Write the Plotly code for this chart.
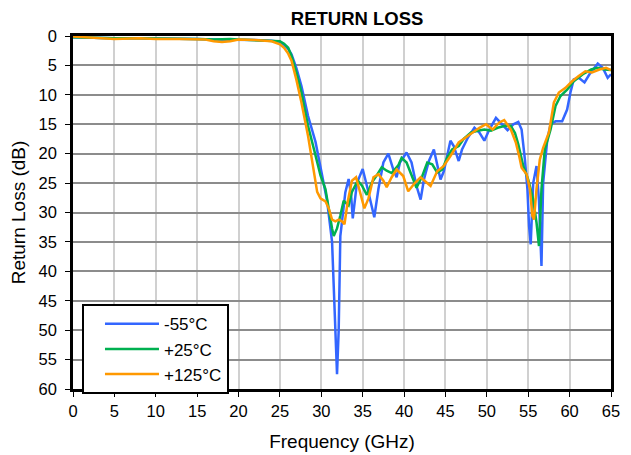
import plotly.graph_objects as go

# ---- data ----
freq_m55 = [0, 2, 5, 8, 10, 13, 15, 17, 19, 20, 22, 24, 25, 25.5, 26, 26.4, 27, 27.6, 28, 28.4,
            29.3, 30.05, 30.7, 31.3, 31.6, 31.8, 31.9, 32.1, 32.3, 32.9, 33.3, 33.6, 33.8, 34.3,
            35, 35.6, 36.4, 36.9, 37.5, 38.1, 38.7, 39.1, 39.5, 40.3, 40.9, 41.5, 42, 42.4, 43,
            43.6, 44, 44.4, 44.8, 45.6, 46, 46.6, 47, 47.7, 48.5, 49.1, 49.7, 50.3, 51.1, 51.9,
            52.5, 53.2, 53.8, 54.2, 54.6, 54.9, 55.1, 55.3, 55.6, 56, 56.3, 56.6, 56.8, 57.3,
            57.7, 58.3, 59.1, 59.7, 60.1, 60.5, 61.1, 61.8, 62.4, 63.4, 64, 64.6, 65]
rl_m55 = [0.2, 0.3, 0.4, 0.4, 0.4, 0.5, 0.5, 0.6, 0.6, 0.6, 0.7, 0.8, 1.0, 1.5, 2.2, 3.1, 5.5, 8.5, 11, 13.6,
          18, 23.2, 28, 35, 45, 53, 57.5, 50, 34, 26.6, 24.3, 27, 31, 25,
          22.6, 26, 30.8, 26, 21.5, 20, 22.7, 24, 21.5, 19.8, 21.5, 25.5, 27.8, 24.4, 21.25,
          19.3, 21.8, 24.4, 23, 17.8, 18.7, 21.25, 19.3, 17.3, 15.6, 16.4, 17.8, 15.9, 13.9, 15,
          16, 15, 14.6, 15.9, 21, 26, 32.3, 35.4, 25, 22.1, 28, 39.1, 25, 17.6,
          15, 14.5, 14.5, 12.5, 9.6, 7.4, 7.1, 7.9, 6.5, 4.7, 5.4, 7.1, 6.5]

freq_p25 = [0, 2, 5, 8, 10, 13, 15, 17, 19, 20, 22, 24, 25, 25.5, 26, 26.4, 27, 27.6, 28.4, 29.3,
            29.9, 30.5, 30.9, 31.3, 31.5, 31.9, 32.3, 32.7, 33.3, 33.7, 34.4, 34.9, 35.5, 36.1,
            36.7, 37.3, 37.9, 38.5, 39.3, 39.7, 40.3, 40.9, 41.5, 42.2, 42.8, 43.4, 44, 44.6,
            45.2, 45.8, 46.6, 47.2, 48.1, 48.9, 49.7, 50.5, 51.3, 52.1, 52.9, 53.4, 53.8, 54.4,
            55, 55.6, 56, 56.3, 56.6, 57, 57.7, 58.3, 58.9, 59.7, 60.5, 61.6, 62.6, 63.4, 64.2, 65]
rl_p25 = [0.2, 0.3, 0.4, 0.4, 0.4, 0.5, 0.5, 0.6, 0.5, 0.6, 0.7, 0.8, 0.9, 1.3, 2.0, 3.4, 6.2, 9.6, 15.3, 20.3,
          23.7, 26, 29.6, 32.7, 34, 32.7, 30.5, 28, 28.8, 26.5, 24.6, 25.4, 27, 24.9,
          23.7, 22.3, 22.9, 23.3, 22, 20.7, 21.5, 23.8, 25.8, 23.8, 21.5, 21.8, 23.2, 22.7,
          20.7, 19.3, 18.7, 17.5, 16.4, 16.1, 15.9, 16.1, 15.6, 15.3, 15.3, 16.5, 18.4, 22.1,
          24.4, 27.8, 31.7, 35.7, 26, 19.3, 15.9, 11.9, 10.2, 9.1, 7.7, 6.5, 5.7, 5.4, 5.7, 5.8]

freq_p125 = [0, 2, 5, 8, 10, 13, 15, 16, 17, 18, 19, 20, 22, 24, 25, 25.5, 26, 26.4, 27, 27.6,
             28.4, 29.0, 29.5, 29.9, 30.5, 30.9, 31.3, 31.7, 32.1, 32.5, 32.8, 33.2, 33.7, 34.2,
             34.7, 35.2, 35.7, 36.3, 36.9, 37.5, 37.9, 38.5, 39.1, 39.9, 40.5, 41.3, 42, 42.6,
             43.2, 44, 44.8, 45.6, 46.6, 47.4, 48.3, 49.1, 49.9, 50.7, 51.5, 52.1, 52.9, 53.5,
             53.95, 54.2, 54.8, 55.2, 55.5, 55.7, 56, 56.4, 56.8, 57.5, 58.1, 58.7, 59.5, 60.3,
             61.1, 61.9, 62.7, 63.6, 64.4, 65]
rl_p125 = [0.1, 0.3, 0.5, 0.4, 0.5, 0.5, 0.6, 0.6, 0.9, 1.0, 0.9, 0.6, 0.7, 0.9, 1.4, 2.0, 3.0, 4.2, 7.5, 11.3,
           17, 22.5, 26.5, 27.6, 28.1, 29.3, 31.2, 31.5, 31.2, 31.5, 32, 28.1, 24.6, 24,
           26.5, 29.3, 27.6, 24, 23.5, 24.6, 25.7, 24, 22.7, 23.8, 26.4, 25, 24, 24.7,
           25.5, 23, 22.1, 20.4, 18.1, 17.3, 16.4, 15.6, 15, 15.9, 14.7, 14.3, 15.9, 18.1,
           20.7, 22.4, 23.5, 26, 30.6, 31.2, 26, 21, 19, 16.4, 11.3, 9.6, 8.8, 7.7,
           6.8, 6, 6.2, 5.7, 5.4, 5.8]

series_names = ["-55°C", "+25°C", "+125°C"]
series_colors = ["#3366FF", "#00B050", "#FF9900"]
x_ticks = list(range(0, 66, 5))
y_ticks = list(range(0, 61, 5))

fig = go.Figure()
for name, color, fx, fy in zip(series_names, series_colors,
                               [freq_m55, freq_p25, freq_p125],
                               [rl_m55, rl_p25, rl_p125]):
    fig.add_trace(go.Scatter(x=fx, y=fy, mode="lines", name=name,
                             line=dict(color=color, width=2.5)))

font_family = "Liberation Sans, Arial, sans-serif"
fig.update_layout(
    width=623, height=447,
    margin=dict(l=65, r=20, t=28, b=66, autoexpand=False),
    paper_bgcolor="white", plot_bgcolor="white",
    font=dict(family=font_family, size=16.5, color="black"),
    title=dict(text="<b>RETURN LOSS</b>", x=0.528, xref="paper", xanchor="center",
               y=0.99, yref="container", yanchor="top", pad=dict(t=0, b=0),
               font=dict(size=18.5)),
    showlegend=True,
    legend=dict(x=0.0167, y=0.24, xanchor="left", yanchor="top",
                bgcolor="white", bordercolor="black", borderwidth=2,
                font=dict(size=17), itemwidth=54, indentation=16, tracegroupgap=0),
)
fig.update_xaxes(range=[0, 65], tickvals=x_ticks, ticks="outside", ticklen=5,
                 tickcolor="black", showline=True, linecolor="black", linewidth=2.5,
                 mirror=True, showgrid=True, gridcolor="#D0D0D0", gridwidth=1.5,
                 zeroline=False, automargin=False,
                 title=dict(text="Frequency (GHz)", font=dict(size=19), standoff=17))
fig.update_yaxes(range=[60, 0], tickvals=y_ticks, ticks="outside", ticklen=5,
                 tickcolor="black", showline=True, linecolor="black", linewidth=2.5,
                 mirror=True, showgrid=True, gridcolor="#8C8C8C", gridwidth=1.5,
                 zeroline=False, automargin=False, ticklabelstandoff=5,
                 title=dict(text="Return Loss (dB)", font=dict(size=19), standoff=10))

fig.write_html("out.html")
